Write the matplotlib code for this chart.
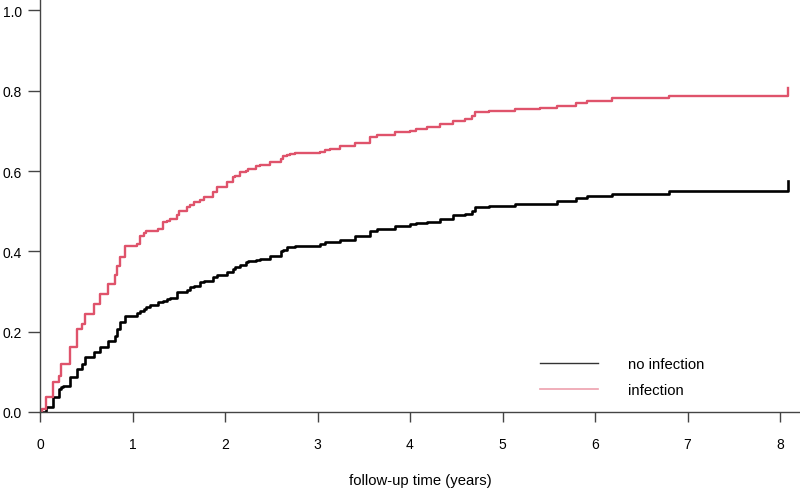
import matplotlib.pyplot as plt
from matplotlib.lines import Line2D

# follow-up times (years) where the curves step
waktu = [0, 0.02, 0.07, 0.14, 0.20, 0.23, 0.25, 0.32, 0.40, 0.45, 0.49, 0.58, 0.65,
         0.74, 0.81, 0.83, 0.87, 0.92, 1.05, 1.08, 1.12, 1.15, 1.19, 1.28, 1.33,
         1.37, 1.41, 1.48, 1.50, 1.59, 1.62, 1.66, 1.73, 1.77, 1.87, 1.91, 2.02,
         2.09, 2.11, 2.16, 2.23, 2.25, 2.34, 2.38, 2.49, 2.60, 2.63, 2.67, 2.70,
         2.76, 3.03, 3.08, 3.14, 3.24, 3.41, 3.57, 3.64, 3.84, 4.00, 4.07, 4.18,
         4.32, 4.47, 4.60, 4.67, 4.70, 4.85, 5.14, 5.40, 5.59, 5.79, 5.91, 6.18,
         6.80, 8.09]

no_infection = [0, 0.0, 0.012, 0.037, 0.057, 0.062, 0.066, 0.086, 0.107, 0.120, 0.136,
                0.149, 0.161, 0.178, 0.190, 0.207, 0.223, 0.240, 0.247, 0.252, 0.257,
                0.262, 0.267, 0.273, 0.277, 0.281, 0.285, 0.298, 0.300, 0.305, 0.311,
                0.315, 0.323, 0.326, 0.335, 0.340, 0.348, 0.356, 0.360, 0.366, 0.373,
                0.375, 0.379, 0.381, 0.389, 0.402, 0.404, 0.410, 0.410, 0.414, 0.418,
                0.423, 0.424, 0.429, 0.438, 0.452, 0.456, 0.464, 0.467, 0.471, 0.474,
                0.481, 0.491, 0.493, 0.501, 0.510, 0.514, 0.518, 0.518, 0.525, 0.533,
                0.539, 0.543, 0.551, 0.576]

infection = [0, 0.008, 0.037, 0.074, 0.090, 0.120, 0.120, 0.161, 0.207, 0.220, 0.244,
             0.269, 0.294, 0.319, 0.340, 0.364, 0.385, 0.414, 0.418, 0.439, 0.445,
             0.452, 0.452, 0.456, 0.472, 0.475, 0.481, 0.490, 0.501, 0.510, 0.515,
             0.522, 0.528, 0.535, 0.547, 0.560, 0.572, 0.585, 0.588, 0.597, 0.600,
             0.605, 0.613, 0.616, 0.622, 0.630, 0.637, 0.640, 0.642, 0.645, 0.648,
             0.652, 0.655, 0.662, 0.670, 0.684, 0.690, 0.697, 0.701, 0.705, 0.711,
             0.717, 0.726, 0.731, 0.736, 0.746, 0.749, 0.755, 0.757, 0.763, 0.770,
             0.775, 0.781, 0.786, 0.808]

label_kurva = ['no infection', 'infection']
warna = ['black', '#DF536B']

plt.rcParams['font.family'] = ['Liberation Sans', 'DejaVu Sans']
plt.rcParams['font.size'] = 10

fig = plt.figure(figsize=(8, 4.89), dpi=100)
ax = fig.add_axes([0.05, 1 - 413 / 489, 0.95, 413 / 489])

ax.plot(waktu, no_infection, drawstyle='steps-post', color=warna[0], linewidth=1.9)
ax.plot(waktu, infection, drawstyle='steps-post', color=warna[1], linewidth=1.7)

ax.set_xlim(0, 760 / 92.5)
ax.set_ylim(0, 413 / 401.5)
ax.set_xticks(range(0, 9))
ax.set_yticks([0.0, 0.2, 0.4, 0.6, 0.8, 1.0])
ax.set_yticklabels(['0.0', '0.2', '0.4', '0.6', '0.8', '1.0'])

for s in ['top', 'right']:
    ax.spines[s].set_visible(False)
for s in ['left', 'bottom']:
    ax.spines[s].set_color('#444444')
    ax.spines[s].set_linewidth(1.0)
ax.tick_params(axis='both', direction='out', colors='#444444', labelcolor='black',
               width=1.0)
ax.tick_params(axis='x', length=7, pad=11)
ax.tick_params(axis='y', length=9, pad=4)

ax.set_xlabel('follow-up time (years)', fontsize=10.7, labelpad=16)

# legend tanpa kotak, garis tipis
handles = [Line2D([], [], color=warna[0], linewidth=1.0, alpha=0.8),
           Line2D([], [], color=warna[1], linewidth=1.2, alpha=0.55)]
ax.legend(handles, label_kurva, loc='upper left', bbox_to_anchor=(0.658, 0.132),
          frameon=False, fontsize=10.7, handlelength=3.9, handletextpad=2.0,
          labelspacing=0.78, borderpad=0, borderaxespad=0)

fig.savefig('out.png', dpi=100)
